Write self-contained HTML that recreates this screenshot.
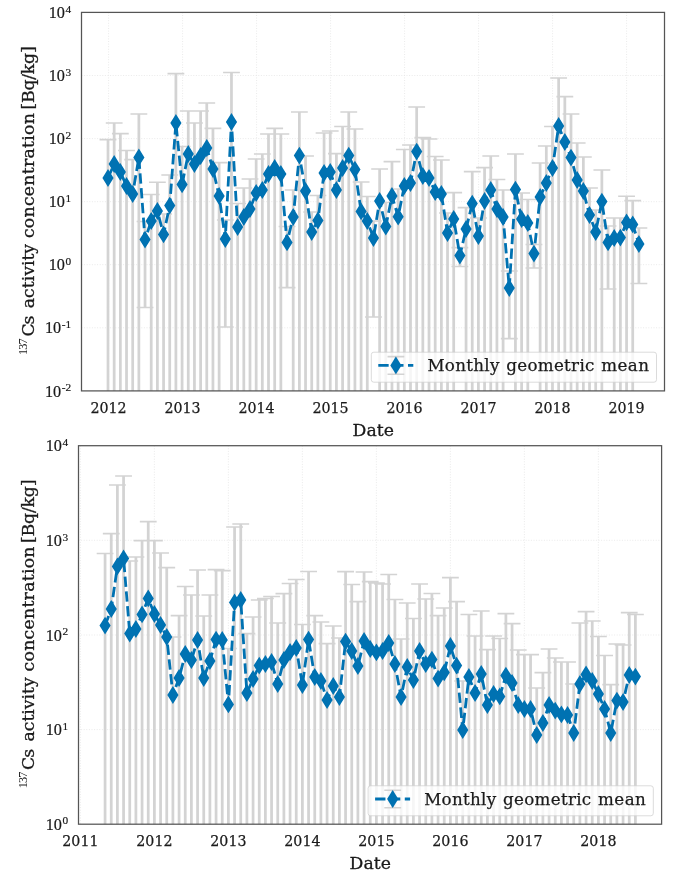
<!DOCTYPE html>
<html><head><meta charset="utf-8"><title>Cs-137 activity concentration</title>
<style>
html,body{margin:0;padding:0;background:#fff;}
svg{display:block;will-change:transform;transform:translateZ(0)}
text{fill:#1a1a1a}
.xt{font-family:"DejaVu Serif",serif;font-size:14.2px;stroke:#1a1a1a;stroke-width:0.25px}
.leg{font-family:"DejaVu Serif",serif;font-size:16.7px;stroke:#1a1a1a;stroke-width:0.25px}
.lab{font-family:"DejaVu Serif",serif;font-size:17.3px;stroke:#1a1a1a;stroke-width:0.3px}
.yt{font-family:"Liberation Serif",serif;font-size:16.2px;stroke:#1a1a1a;stroke-width:0.2px}
.sup{font-size:11.3px}
.sup2{font-family:"Liberation Serif",serif;font-size:12.3px}
</style></head><body>
<svg width="685" height="884" viewBox="0 0 685 884">
<rect width="685" height="884" fill="#fff"/>
<clipPath id="clip1"><rect x="81.5" y="12.4" width="583.0" height="378.5"/></clipPath>
<path d="M81.5 75.5H664.5M81.5 138.6H664.5M81.5 201.7H664.5M81.5 264.7H664.5M81.5 327.8H664.5M108.6 12.4V390.9M182.6 12.4V390.9M256.6 12.4V390.9M330.6 12.4V390.9M404.6 12.4V390.9M478.6 12.4V390.9M552.6 12.4V390.9M626.6 12.4V390.9" stroke="#e4e4e4" stroke-width="0.8" stroke-dasharray="1 1.6" fill="none" clip-path="url(#clip1)"/>
<g clip-path="url(#clip1)">
<path d="M108.00 139.6V410.9M114.17 123.0V410.9M120.35 133.6V410.9M126.52 150.4V410.9M132.69 159.6V410.9M138.87 114.0V410.9M145.04 221.4V307.4M151.21 194.4V410.9M157.39 182.2V410.9M163.56 214.0V410.9M169.73 175.0V410.9M175.91 73.6V410.9M182.08 146.4V410.9M188.25 111.0V410.9M194.43 123.0V410.9M200.60 111.0V410.9M206.77 103.0V410.9M212.95 128.4V410.9M219.12 162.6V410.9M225.29 220.0V327.0M231.47 72.4V410.9M237.64 203.5V410.9M243.81 188.0V410.9M249.99 179.0V410.9M256.16 159.0V410.9M262.33 154.0V410.9M268.51 134.0V410.9M274.68 128.4V410.9M280.85 134.0V410.9M287.03 226.4V287.6M293.20 190.0V410.9M299.37 112.0V410.9M305.55 156.0V410.9M311.72 212.0V410.9M317.89 195.5V410.9M324.07 133.0V410.9M330.24 131.0V410.9M336.41 153.6V410.9M342.59 126.4V410.9M348.76 112.0V410.9M354.93 129.0V410.9M361.11 182.0V410.9M367.28 196.4V410.9M373.45 221.0V317.0M379.63 169.0V410.9M385.80 202.4V410.9M391.97 161.6V410.9M398.15 189.0V410.9M404.32 149.4V410.9M410.49 145.0V410.9M416.67 107.0V410.9M422.84 137.6V410.9M429.01 139.0V410.9M435.19 156.4V410.9M441.36 160.0V410.9M447.53 213.0V410.9M453.71 192.6V410.9M459.88 247.6V266.4M466.05 207.6V410.9M472.23 171.6V410.9M478.40 218.0V410.9M484.57 167.6V410.9M490.75 156.0V410.9M496.92 179.4V410.9M503.09 190.0V410.9M509.27 271.0V338.6M515.44 154.0V410.9M521.61 193.0V410.9M527.79 199.4V410.9M533.96 244.4V268.0M540.13 163.0V410.9M546.31 146.0V410.9M552.48 126.4V410.9M558.65 78.0V410.9M564.83 96.6V410.9M571.00 114.0V410.9M577.17 143.0V410.9M583.35 157.0V410.9M589.52 188.0V410.9M595.69 210.0V410.9M601.87 170.0V410.9M608.04 226.0V289.0M614.21 218.0V410.9M620.39 218.0V410.9M626.56 196.2V410.9M632.73 200.6V410.9M638.91 228.0V283.4" stroke="#d3d3d3" stroke-width="2.75" fill="none"/>
<path d="M99.60 139.6H116.40M105.77 123.0H122.57M111.95 133.6H128.75M118.12 150.4H134.92M124.29 159.6H141.09M130.47 114.0H147.27M136.64 221.4H153.44M136.64 307.4H153.44M142.81 194.4H159.61M148.99 182.2H165.79M155.16 214.0H171.96M161.33 175.0H178.13M167.51 73.6H184.31M173.68 146.4H190.48M179.85 111.0H196.65M186.03 123.0H202.83M192.20 111.0H209.00M198.37 103.0H215.17M204.55 128.4H221.35M210.72 162.6H227.52M216.89 220.0H233.69M216.89 327.0H233.69M223.07 72.4H239.87M229.24 203.5H246.04M235.41 188.0H252.21M241.59 179.0H258.39M247.76 159.0H264.56M253.93 154.0H270.73M260.11 134.0H276.91M266.28 128.4H283.08M272.45 134.0H289.25M278.63 226.4H295.43M278.63 287.6H295.43M284.80 190.0H301.60M290.97 112.0H307.77M297.15 156.0H313.95M303.32 212.0H320.12M309.49 195.5H326.29M315.67 133.0H332.47M321.84 131.0H338.64M328.01 153.6H344.81M334.19 126.4H350.99M340.36 112.0H357.16M346.53 129.0H363.33M352.71 182.0H369.51M358.88 196.4H375.68M365.05 221.0H381.85M365.05 317.0H381.85M371.23 169.0H388.03M377.40 202.4H394.20M383.57 161.6H400.37M389.75 189.0H406.55M395.92 149.4H412.72M402.09 145.0H418.89M408.27 107.0H425.07M414.44 137.6H431.24M420.61 139.0H437.41M426.79 156.4H443.59M432.96 160.0H449.76M439.13 213.0H455.93M445.31 192.6H462.11M451.48 247.6H468.28M451.48 266.4H468.28M457.65 207.6H474.45M463.83 171.6H480.63M470.00 218.0H486.80M476.17 167.6H492.97M482.35 156.0H499.15M488.52 179.4H505.32M494.69 190.0H511.49M500.87 271.0H517.67M500.87 338.6H517.67M507.04 154.0H523.84M513.21 193.0H530.01M519.39 199.4H536.19M525.56 244.4H542.36M525.56 268.0H542.36M531.73 163.0H548.53M537.91 146.0H554.71M544.08 126.4H560.88M550.25 78.0H567.05M556.43 96.6H573.23M562.60 114.0H579.40M568.77 143.0H585.57M574.95 157.0H591.75M581.12 188.0H597.92M587.29 210.0H604.09M593.47 170.0H610.27M599.64 226.0H616.44M599.64 289.0H616.44M605.81 218.0H622.61M611.99 218.0H628.79M618.16 196.2H634.96M624.33 200.6H641.13M630.51 228.0H647.31M630.51 283.4H647.31" stroke="#d3d3d3" stroke-width="1.55" fill="none"/>
<polyline points="108.00,178.0 114.17,164.0 120.35,172.0 126.52,186.0 132.69,194.0 138.87,157.4 145.04,239.6 151.21,221.0 157.39,211.0 163.56,234.4 169.73,205.6 175.91,123.0 182.08,184.4 188.25,154.0 194.43,164.0 200.60,156.0 206.77,148.0 212.95,169.0 219.12,196.0 225.29,239.0 231.47,122.0 237.64,227.0 243.81,217.0 249.99,209.0 256.16,193.0 262.33,190.0 268.51,174.0 274.68,168.0 280.85,174.0 287.03,242.4 293.20,217.0 299.37,155.6 305.55,191.0 311.72,232.0 317.89,220.5 324.07,173.0 330.24,172.0 336.41,190.0 342.59,168.0 348.76,155.6 354.93,169.6 361.11,211.4 367.28,221.0 373.45,238.0 379.63,201.0 385.80,226.5 391.97,196.0 398.15,216.7 404.32,186.0 410.49,183.0 416.67,151.6 422.84,176.0 429.01,178.0 435.19,192.0 441.36,194.0 447.53,233.0 453.71,219.0 459.88,255.6 466.05,229.0 472.23,203.6 478.40,236.0 484.57,201.0 490.75,190.0 496.92,209.0 503.09,217.0 509.27,288.0 515.44,189.6 521.61,219.0 527.79,223.0 533.96,253.6 540.13,197.0 546.31,183.0 552.48,168.0 558.65,126.0 564.83,142.0 571.00,157.6 577.17,180.0 583.35,191.0 589.52,215.0 595.69,232.0 601.87,201.6 608.04,242.4 614.21,238.0 620.39,237.6 626.56,222.4 632.73,224.4 638.91,244.0" stroke="#0072b2" stroke-width="2.8" stroke-dasharray="10.36 4.48" fill="none" stroke-linejoin="round"/>
<path d="M108.00 169.1L113.60 178.0L108.00 186.9L102.40 178.0ZM114.17 155.1L119.77 164.0L114.17 172.9L108.57 164.0ZM120.35 163.1L125.95 172.0L120.35 180.9L114.75 172.0ZM126.52 177.1L132.12 186.0L126.52 194.9L120.92 186.0ZM132.69 185.1L138.29 194.0L132.69 202.9L127.09 194.0ZM138.87 148.5L144.47 157.4L138.87 166.3L133.27 157.4ZM145.04 230.7L150.64 239.6L145.04 248.5L139.44 239.6ZM151.21 212.1L156.81 221.0L151.21 229.9L145.61 221.0ZM157.39 202.1L162.99 211.0L157.39 219.9L151.79 211.0ZM163.56 225.5L169.16 234.4L163.56 243.3L157.96 234.4ZM169.73 196.7L175.33 205.6L169.73 214.5L164.13 205.6ZM175.91 114.1L181.51 123.0L175.91 131.9L170.31 123.0ZM182.08 175.5L187.68 184.4L182.08 193.3L176.48 184.4ZM188.25 145.1L193.85 154.0L188.25 162.9L182.65 154.0ZM194.43 155.1L200.03 164.0L194.43 172.9L188.83 164.0ZM200.60 147.1L206.20 156.0L200.60 164.9L195.00 156.0ZM206.77 139.1L212.37 148.0L206.77 156.9L201.17 148.0ZM212.95 160.1L218.55 169.0L212.95 177.9L207.35 169.0ZM219.12 187.1L224.72 196.0L219.12 204.9L213.52 196.0ZM225.29 230.1L230.89 239.0L225.29 247.9L219.69 239.0ZM231.47 113.1L237.07 122.0L231.47 130.9L225.87 122.0ZM237.64 218.1L243.24 227.0L237.64 235.9L232.04 227.0ZM243.81 208.1L249.41 217.0L243.81 225.9L238.21 217.0ZM249.99 200.1L255.59 209.0L249.99 217.9L244.39 209.0ZM256.16 184.1L261.76 193.0L256.16 201.9L250.56 193.0ZM262.33 181.1L267.93 190.0L262.33 198.9L256.73 190.0ZM268.51 165.1L274.11 174.0L268.51 182.9L262.91 174.0ZM274.68 159.1L280.28 168.0L274.68 176.9L269.08 168.0ZM280.85 165.1L286.45 174.0L280.85 182.9L275.25 174.0ZM287.03 233.5L292.63 242.4L287.03 251.3L281.43 242.4ZM293.20 208.1L298.80 217.0L293.20 225.9L287.60 217.0ZM299.37 146.7L304.97 155.6L299.37 164.5L293.77 155.6ZM305.55 182.1L311.15 191.0L305.55 199.9L299.95 191.0ZM311.72 223.1L317.32 232.0L311.72 240.9L306.12 232.0ZM317.89 211.6L323.49 220.5L317.89 229.4L312.29 220.5ZM324.07 164.1L329.67 173.0L324.07 181.9L318.47 173.0ZM330.24 163.1L335.84 172.0L330.24 180.9L324.64 172.0ZM336.41 181.1L342.01 190.0L336.41 198.9L330.81 190.0ZM342.59 159.1L348.19 168.0L342.59 176.9L336.99 168.0ZM348.76 146.7L354.36 155.6L348.76 164.5L343.16 155.6ZM354.93 160.7L360.53 169.6L354.93 178.5L349.33 169.6ZM361.11 202.5L366.71 211.4L361.11 220.3L355.51 211.4ZM367.28 212.1L372.88 221.0L367.28 229.9L361.68 221.0ZM373.45 229.1L379.05 238.0L373.45 246.9L367.85 238.0ZM379.63 192.1L385.23 201.0L379.63 209.9L374.03 201.0ZM385.80 217.6L391.40 226.5L385.80 235.4L380.20 226.5ZM391.97 187.1L397.57 196.0L391.97 204.9L386.37 196.0ZM398.15 207.8L403.75 216.7L398.15 225.6L392.55 216.7ZM404.32 177.1L409.92 186.0L404.32 194.9L398.72 186.0ZM410.49 174.1L416.09 183.0L410.49 191.9L404.89 183.0ZM416.67 142.7L422.27 151.6L416.67 160.5L411.07 151.6ZM422.84 167.1L428.44 176.0L422.84 184.9L417.24 176.0ZM429.01 169.1L434.61 178.0L429.01 186.9L423.41 178.0ZM435.19 183.1L440.79 192.0L435.19 200.9L429.59 192.0ZM441.36 185.1L446.96 194.0L441.36 202.9L435.76 194.0ZM447.53 224.1L453.13 233.0L447.53 241.9L441.93 233.0ZM453.71 210.1L459.31 219.0L453.71 227.9L448.11 219.0ZM459.88 246.7L465.48 255.6L459.88 264.5L454.28 255.6ZM466.05 220.1L471.65 229.0L466.05 237.9L460.45 229.0ZM472.23 194.7L477.83 203.6L472.23 212.5L466.63 203.6ZM478.40 227.1L484.00 236.0L478.40 244.9L472.80 236.0ZM484.57 192.1L490.17 201.0L484.57 209.9L478.97 201.0ZM490.75 181.1L496.35 190.0L490.75 198.9L485.15 190.0ZM496.92 200.1L502.52 209.0L496.92 217.9L491.32 209.0ZM503.09 208.1L508.69 217.0L503.09 225.9L497.49 217.0ZM509.27 279.1L514.87 288.0L509.27 296.9L503.67 288.0ZM515.44 180.7L521.04 189.6L515.44 198.5L509.84 189.6ZM521.61 210.1L527.21 219.0L521.61 227.9L516.01 219.0ZM527.79 214.1L533.39 223.0L527.79 231.9L522.19 223.0ZM533.96 244.7L539.56 253.6L533.96 262.5L528.36 253.6ZM540.13 188.1L545.73 197.0L540.13 205.9L534.53 197.0ZM546.31 174.1L551.91 183.0L546.31 191.9L540.71 183.0ZM552.48 159.1L558.08 168.0L552.48 176.9L546.88 168.0ZM558.65 117.1L564.25 126.0L558.65 134.9L553.05 126.0ZM564.83 133.1L570.43 142.0L564.83 150.9L559.23 142.0ZM571.00 148.7L576.60 157.6L571.00 166.5L565.40 157.6ZM577.17 171.1L582.77 180.0L577.17 188.9L571.57 180.0ZM583.35 182.1L588.95 191.0L583.35 199.9L577.75 191.0ZM589.52 206.1L595.12 215.0L589.52 223.9L583.92 215.0ZM595.69 223.1L601.29 232.0L595.69 240.9L590.09 232.0ZM601.87 192.7L607.47 201.6L601.87 210.5L596.27 201.6ZM608.04 233.5L613.64 242.4L608.04 251.3L602.44 242.4ZM614.21 229.1L619.81 238.0L614.21 246.9L608.61 238.0ZM620.39 228.7L625.99 237.6L620.39 246.5L614.79 237.6ZM626.56 213.5L632.16 222.4L626.56 231.3L620.96 222.4ZM632.73 215.5L638.33 224.4L632.73 233.3L627.13 224.4ZM638.91 235.1L644.51 244.0L638.91 252.9L633.31 244.0Z" fill="#0072b2"/>
</g>
<rect x="371.3" y="352.2" width="285.2" height="30" rx="2.5" fill="#fff" fill-opacity="0.8" stroke="#cccccc" stroke-opacity="0.7" stroke-width="1"/>
<path d="M395.90000000000003 356.59999999999997V374.2" stroke="#d3d3d3" stroke-width="2.75" opacity="0.9"/>
<path d="M387.50000000000006 356.59999999999997H404.3M387.50000000000006 374.2H404.3" stroke="#d3d3d3" stroke-width="1.55"/>
<path d="M378.3 365.4H413.3" stroke="#0072b2" stroke-width="2.8" stroke-dasharray="10.36 4.48"/>
<path d="M395.90000000000003 356.5L401.50000000000006 365.4L395.90000000000003 374.29999999999995L390.3 365.4Z" fill="#0072b2"/>
<text x="427.4" y="371.4" class="leg" textLength="72.0" lengthAdjust="spacing">Monthly</text>
<text x="506.2" y="371.4" class="leg" textLength="88.2" lengthAdjust="spacing">geometric</text>
<text x="601.2" y="371.4" class="leg" textLength="47.8" lengthAdjust="spacing">mean</text>
<rect x="81.5" y="12.4" width="583.0" height="378.5" fill="none" stroke="#555555" stroke-width="1.25"/>
<text x="108.6" y="412.7" class="xt" text-anchor="middle">2012</text>
<text x="182.6" y="412.7" class="xt" text-anchor="middle">2013</text>
<text x="256.6" y="412.7" class="xt" text-anchor="middle">2014</text>
<text x="330.6" y="412.7" class="xt" text-anchor="middle">2015</text>
<text x="404.6" y="412.7" class="xt" text-anchor="middle">2016</text>
<text x="478.6" y="412.7" class="xt" text-anchor="middle">2017</text>
<text x="552.6" y="412.7" class="xt" text-anchor="middle">2018</text>
<text x="626.6" y="412.7" class="xt" text-anchor="middle">2019</text>
<text x="71.2" y="18.0" class="yt" text-anchor="end">10<tspan class="sup" dx="0.6" dy="-5.4">4</tspan></text>
<text x="71.2" y="81.1" class="yt" text-anchor="end">10<tspan class="sup" dx="0.6" dy="-5.4">3</tspan></text>
<text x="71.2" y="144.2" class="yt" text-anchor="end">10<tspan class="sup" dx="0.6" dy="-5.4">2</tspan></text>
<text x="71.2" y="207.2" class="yt" text-anchor="end">10<tspan class="sup" dx="0.6" dy="-5.4">1</tspan></text>
<text x="71.2" y="270.3" class="yt" text-anchor="end">10<tspan class="sup" dx="0.6" dy="-5.4">0</tspan></text>
<text x="71.2" y="333.4" class="yt" text-anchor="end">10<tspan class="sup" dx="0.6" dy="-5.4">-1</tspan></text>
<text x="71.2" y="396.5" class="yt" text-anchor="end">10<tspan class="sup" dx="0.6" dy="-5.4">-2</tspan></text>
<text transform="translate(373.2 435.8) scale(1 1.0)" class="lab" text-anchor="middle">Date</text>
<text transform="translate(26.7 355.0) rotate(-90)" class="sup2" textLength="16.6" lengthAdjust="spacing">137</text>
<text transform="translate(33.6 336.6) rotate(-90) scale(1 1.0)" class="lab" textLength="21.0" lengthAdjust="spacing">Cs</text>
<text transform="translate(33.6 308.2) rotate(-90) scale(1 1.0)" class="lab" textLength="64.3" lengthAdjust="spacing">activity</text>
<text transform="translate(33.6 238.1) rotate(-90) scale(1 1.0)" class="lab" textLength="124.9" lengthAdjust="spacing">concentration</text>
<text transform="translate(33.6 109.6) rotate(-90) scale(1 1.0)" class="lab" textLength="63.3" lengthAdjust="spacing">[Bq/kg]</text>
<clipPath id="clip2"><rect x="78.5" y="445.7" width="583.1" height="378.50000000000006"/></clipPath>
<path d="M78.5 540.3H661.6M78.5 635.0H661.6M78.5 729.6H661.6M80.4 445.7V824.2M154.4 445.7V824.2M228.4 445.7V824.2M302.4 445.7V824.2M376.4 445.7V824.2M450.4 445.7V824.2M524.4 445.7V824.2M598.4 445.7V824.2" stroke="#e4e4e4" stroke-width="0.8" stroke-dasharray="1 1.6" fill="none" clip-path="url(#clip2)"/>
<g clip-path="url(#clip2)">
<path d="M105.07 553.4V844.2M111.24 533.6V844.2M117.40 485.0V844.2M123.57 476.0V844.2M129.74 561.0V844.2M135.90 557.0V844.2M142.07 540.6V844.2M148.24 521.6V844.2M154.40 540.6V844.2M160.57 553.0V844.2M166.74 567.6V844.2M172.90 637.0V844.2M179.07 615.6V844.2M185.24 586.4V844.2M191.40 595.0V844.2M197.57 570.0V844.2M203.74 616.0V844.2M209.90 595.0V844.2M216.07 569.6V844.2M222.24 570.6V844.2M228.40 648.4V844.2M234.57 527.0V844.2M240.74 524.0V844.2M246.90 633.6V844.2M253.07 617.0V844.2M259.24 600.0V844.2M265.40 598.5V844.2M271.57 596.5V844.2M277.74 623.0V844.2M283.90 593.6V844.2M290.07 583.4V844.2M296.24 579.4V844.2M302.40 624.4V844.2M308.57 571.4V844.2M314.74 615.6V844.2M320.90 622.0V844.2M327.07 643.6V844.2M333.24 626.0V844.2M339.40 638.0V844.2M345.57 571.6V844.2M351.74 584.4V844.2M357.90 601.6V844.2M364.07 572.0V844.2M370.24 581.6V844.2M376.40 583.0V844.2M382.57 584.0V844.2M388.74 574.4V844.2M394.90 599.4V844.2M401.07 639.0V844.2M407.24 603.0V844.2M413.40 618.4V844.2M419.57 584.0V844.2M425.74 599.0V844.2M431.90 593.4V844.2M438.07 615.6V844.2M444.24 608.0V844.2M450.40 577.6V844.2M456.57 601.6V844.2M462.74 681.0V844.2M468.90 614.4V844.2M475.07 636.0V844.2M481.24 611.0V844.2M487.40 649.6V844.2M493.57 636.0V844.2M499.74 638.4V844.2M505.90 613.6V844.2M512.07 623.6V844.2M518.24 650.0V844.2M524.40 654.6V844.2M530.57 654.6V844.2M536.74 688.0V844.2M542.90 672.6V844.2M549.07 649.0V844.2M555.24 658.0V844.2M561.40 662.0V844.2M567.57 662.0V844.2M573.74 684.0V844.2M579.90 623.0V844.2M586.07 611.6V844.2M592.24 621.0V844.2M598.40 636.4V844.2M604.57 655.4V844.2M610.74 684.6V844.2M616.90 644.0V844.2M623.07 645.0V844.2M629.24 612.6V844.2M635.40 614.4V844.2" stroke="#d3d3d3" stroke-width="2.75" fill="none"/>
<path d="M96.67 553.4H113.47M102.84 533.6H119.64M109.00 485.0H125.80M115.17 476.0H131.97M121.34 561.0H138.14M127.50 557.0H144.30M133.67 540.6H150.47M139.84 521.6H156.64M146.00 540.6H162.80M152.17 553.0H168.97M158.34 567.6H175.14M164.50 637.0H181.30M170.67 615.6H187.47M176.84 586.4H193.64M183.00 595.0H199.80M189.17 570.0H205.97M195.34 616.0H212.14M201.50 595.0H218.30M207.67 569.6H224.47M213.84 570.6H230.64M220.00 648.4H236.80M226.17 527.0H242.97M232.34 524.0H249.14M238.50 633.6H255.30M244.67 617.0H261.47M250.84 600.0H267.64M257.00 598.5H273.80M263.17 596.5H279.97M269.34 623.0H286.14M275.50 593.6H292.30M281.67 583.4H298.47M287.84 579.4H304.64M294.00 624.4H310.80M300.17 571.4H316.97M306.34 615.6H323.14M312.50 622.0H329.30M318.67 643.6H335.47M324.84 626.0H341.64M331.00 638.0H347.80M337.17 571.6H353.97M343.34 584.4H360.14M349.50 601.6H366.30M355.67 572.0H372.47M361.84 581.6H378.64M368.00 583.0H384.80M374.17 584.0H390.97M380.34 574.4H397.14M386.50 599.4H403.30M392.67 639.0H409.47M398.84 603.0H415.64M405.00 618.4H421.80M411.17 584.0H427.97M417.34 599.0H434.14M423.50 593.4H440.30M429.67 615.6H446.47M435.84 608.0H452.64M442.00 577.6H458.80M448.17 601.6H464.97M454.34 681.0H471.14M460.50 614.4H477.30M466.67 636.0H483.47M472.84 611.0H489.64M479.00 649.6H495.80M485.17 636.0H501.97M491.34 638.4H508.14M497.50 613.6H514.30M503.67 623.6H520.47M509.84 650.0H526.64M516.00 654.6H532.80M522.17 654.6H538.97M528.34 688.0H545.14M534.50 672.6H551.30M540.67 649.0H557.47M546.84 658.0H563.64M553.00 662.0H569.80M559.17 662.0H575.97M565.34 684.0H582.14M571.50 623.0H588.30M577.67 611.6H594.47M583.84 621.0H600.64M590.00 636.4H606.80M596.17 655.4H612.97M602.34 684.6H619.14M608.50 644.0H625.30M614.67 645.0H631.47M620.84 612.6H637.64M627.00 614.4H643.80" stroke="#d3d3d3" stroke-width="1.55" fill="none"/>
<polyline points="105.07,625.6 111.24,609.0 117.40,566.4 123.57,558.4 129.74,633.6 135.90,629.0 142.07,614.4 148.24,598.4 154.40,614.0 160.57,625.0 166.74,637.0 172.90,695.0 179.07,678.0 185.24,654.0 191.40,660.0 197.57,640.0 203.74,678.0 209.90,661.0 216.07,639.6 222.24,640.0 228.40,704.4 234.57,602.4 240.74,600.0 246.90,693.0 253.07,679.0 259.24,665.6 265.40,664.0 271.57,662.0 277.74,684.0 283.90,660.0 290.07,652.0 296.24,648.0 302.40,685.0 308.57,639.6 314.74,677.0 320.90,681.0 327.07,700.0 333.24,686.0 339.40,697.0 345.57,641.6 351.74,651.0 357.90,666.0 364.07,641.0 370.24,649.0 376.40,652.4 382.57,651.0 388.74,643.0 394.90,664.0 401.07,697.0 407.24,667.0 413.40,680.0 419.57,651.0 425.74,664.0 431.90,659.6 438.07,678.6 444.24,672.4 450.40,646.0 456.57,665.6 462.74,730.0 468.90,677.0 475.07,693.0 481.24,674.0 487.40,705.0 493.57,694.0 499.74,696.4 505.90,675.6 512.07,683.0 518.24,705.0 524.40,709.0 530.57,709.0 536.74,735.0 542.90,723.0 549.07,705.0 555.24,710.6 561.40,714.4 567.57,715.0 573.74,733.0 579.90,684.0 586.07,674.4 592.24,681.0 598.40,694.0 604.57,709.0 610.74,733.0 616.90,700.6 623.07,702.0 629.24,675.0 635.40,676.6" stroke="#0072b2" stroke-width="2.8" stroke-dasharray="10.36 4.48" fill="none" stroke-linejoin="round"/>
<path d="M105.07 616.7L110.67 625.6L105.07 634.5L99.47 625.6ZM111.24 600.1L116.84 609.0L111.24 617.9L105.64 609.0ZM117.40 557.5L123.00 566.4L117.40 575.3L111.80 566.4ZM123.57 549.5L129.17 558.4L123.57 567.3L117.97 558.4ZM129.74 624.7L135.34 633.6L129.74 642.5L124.14 633.6ZM135.90 620.1L141.50 629.0L135.90 637.9L130.30 629.0ZM142.07 605.5L147.67 614.4L142.07 623.3L136.47 614.4ZM148.24 589.5L153.84 598.4L148.24 607.3L142.64 598.4ZM154.40 605.1L160.00 614.0L154.40 622.9L148.80 614.0ZM160.57 616.1L166.17 625.0L160.57 633.9L154.97 625.0ZM166.74 628.1L172.34 637.0L166.74 645.9L161.14 637.0ZM172.90 686.1L178.50 695.0L172.90 703.9L167.30 695.0ZM179.07 669.1L184.67 678.0L179.07 686.9L173.47 678.0ZM185.24 645.1L190.84 654.0L185.24 662.9L179.64 654.0ZM191.40 651.1L197.00 660.0L191.40 668.9L185.80 660.0ZM197.57 631.1L203.17 640.0L197.57 648.9L191.97 640.0ZM203.74 669.1L209.34 678.0L203.74 686.9L198.14 678.0ZM209.90 652.1L215.50 661.0L209.90 669.9L204.30 661.0ZM216.07 630.7L221.67 639.6L216.07 648.5L210.47 639.6ZM222.24 631.1L227.84 640.0L222.24 648.9L216.64 640.0ZM228.40 695.5L234.00 704.4L228.40 713.3L222.80 704.4ZM234.57 593.5L240.17 602.4L234.57 611.3L228.97 602.4ZM240.74 591.1L246.34 600.0L240.74 608.9L235.14 600.0ZM246.90 684.1L252.50 693.0L246.90 701.9L241.30 693.0ZM253.07 670.1L258.67 679.0L253.07 687.9L247.47 679.0ZM259.24 656.7L264.84 665.6L259.24 674.5L253.64 665.6ZM265.40 655.1L271.00 664.0L265.40 672.9L259.80 664.0ZM271.57 653.1L277.17 662.0L271.57 670.9L265.97 662.0ZM277.74 675.1L283.34 684.0L277.74 692.9L272.14 684.0ZM283.90 651.1L289.50 660.0L283.90 668.9L278.30 660.0ZM290.07 643.1L295.67 652.0L290.07 660.9L284.47 652.0ZM296.24 639.1L301.84 648.0L296.24 656.9L290.64 648.0ZM302.40 676.1L308.00 685.0L302.40 693.9L296.80 685.0ZM308.57 630.7L314.17 639.6L308.57 648.5L302.97 639.6ZM314.74 668.1L320.34 677.0L314.74 685.9L309.14 677.0ZM320.90 672.1L326.50 681.0L320.90 689.9L315.30 681.0ZM327.07 691.1L332.67 700.0L327.07 708.9L321.47 700.0ZM333.24 677.1L338.84 686.0L333.24 694.9L327.64 686.0ZM339.40 688.1L345.00 697.0L339.40 705.9L333.80 697.0ZM345.57 632.7L351.17 641.6L345.57 650.5L339.97 641.6ZM351.74 642.1L357.34 651.0L351.74 659.9L346.14 651.0ZM357.90 657.1L363.50 666.0L357.90 674.9L352.30 666.0ZM364.07 632.1L369.67 641.0L364.07 649.9L358.47 641.0ZM370.24 640.1L375.84 649.0L370.24 657.9L364.64 649.0ZM376.40 643.5L382.00 652.4L376.40 661.3L370.80 652.4ZM382.57 642.1L388.17 651.0L382.57 659.9L376.97 651.0ZM388.74 634.1L394.34 643.0L388.74 651.9L383.14 643.0ZM394.90 655.1L400.50 664.0L394.90 672.9L389.30 664.0ZM401.07 688.1L406.67 697.0L401.07 705.9L395.47 697.0ZM407.24 658.1L412.84 667.0L407.24 675.9L401.64 667.0ZM413.40 671.1L419.00 680.0L413.40 688.9L407.80 680.0ZM419.57 642.1L425.17 651.0L419.57 659.9L413.97 651.0ZM425.74 655.1L431.34 664.0L425.74 672.9L420.14 664.0ZM431.90 650.7L437.50 659.6L431.90 668.5L426.30 659.6ZM438.07 669.7L443.67 678.6L438.07 687.5L432.47 678.6ZM444.24 663.5L449.84 672.4L444.24 681.3L438.64 672.4ZM450.40 637.1L456.00 646.0L450.40 654.9L444.80 646.0ZM456.57 656.7L462.17 665.6L456.57 674.5L450.97 665.6ZM462.74 721.1L468.34 730.0L462.74 738.9L457.14 730.0ZM468.90 668.1L474.50 677.0L468.90 685.9L463.30 677.0ZM475.07 684.1L480.67 693.0L475.07 701.9L469.47 693.0ZM481.24 665.1L486.84 674.0L481.24 682.9L475.64 674.0ZM487.40 696.1L493.00 705.0L487.40 713.9L481.80 705.0ZM493.57 685.1L499.17 694.0L493.57 702.9L487.97 694.0ZM499.74 687.5L505.34 696.4L499.74 705.3L494.14 696.4ZM505.90 666.7L511.50 675.6L505.90 684.5L500.30 675.6ZM512.07 674.1L517.67 683.0L512.07 691.9L506.47 683.0ZM518.24 696.1L523.84 705.0L518.24 713.9L512.64 705.0ZM524.40 700.1L530.00 709.0L524.40 717.9L518.80 709.0ZM530.57 700.1L536.17 709.0L530.57 717.9L524.97 709.0ZM536.74 726.1L542.34 735.0L536.74 743.9L531.14 735.0ZM542.90 714.1L548.50 723.0L542.90 731.9L537.30 723.0ZM549.07 696.1L554.67 705.0L549.07 713.9L543.47 705.0ZM555.24 701.7L560.84 710.6L555.24 719.5L549.64 710.6ZM561.40 705.5L567.00 714.4L561.40 723.3L555.80 714.4ZM567.57 706.1L573.17 715.0L567.57 723.9L561.97 715.0ZM573.74 724.1L579.34 733.0L573.74 741.9L568.14 733.0ZM579.90 675.1L585.50 684.0L579.90 692.9L574.30 684.0ZM586.07 665.5L591.67 674.4L586.07 683.3L580.47 674.4ZM592.24 672.1L597.84 681.0L592.24 689.9L586.64 681.0ZM598.40 685.1L604.00 694.0L598.40 702.9L592.80 694.0ZM604.57 700.1L610.17 709.0L604.57 717.9L598.97 709.0ZM610.74 724.1L616.34 733.0L610.74 741.9L605.14 733.0ZM616.90 691.7L622.50 700.6L616.90 709.5L611.30 700.6ZM623.07 693.1L628.67 702.0L623.07 710.9L617.47 702.0ZM629.24 666.1L634.84 675.0L629.24 683.9L623.64 675.0ZM635.40 667.7L641.00 676.6L635.40 685.5L629.80 676.6Z" fill="#0072b2"/>
</g>
<rect x="368.1" y="785.8" width="285.2" height="30" rx="2.5" fill="#fff" fill-opacity="0.8" stroke="#cccccc" stroke-opacity="0.7" stroke-width="1"/>
<path d="M392.70000000000005 790.2V807.8" stroke="#d3d3d3" stroke-width="2.75" opacity="0.9"/>
<path d="M384.30000000000007 790.2H401.1M384.30000000000007 807.8H401.1" stroke="#d3d3d3" stroke-width="1.55"/>
<path d="M375.1 799.0H410.1" stroke="#0072b2" stroke-width="2.8" stroke-dasharray="10.36 4.48"/>
<path d="M392.70000000000005 790.1L398.30000000000007 799.0L392.70000000000005 807.9L387.1 799.0Z" fill="#0072b2"/>
<text x="424.2" y="805.0" class="leg" textLength="72.0" lengthAdjust="spacing">Monthly</text>
<text x="503.0" y="805.0" class="leg" textLength="88.2" lengthAdjust="spacing">geometric</text>
<text x="598.0" y="805.0" class="leg" textLength="47.8" lengthAdjust="spacing">mean</text>
<rect x="78.5" y="445.7" width="583.1" height="378.50000000000006" fill="none" stroke="#555555" stroke-width="1.25"/>
<text x="80.4" y="846.0" class="xt" text-anchor="middle">2011</text>
<text x="154.4" y="846.0" class="xt" text-anchor="middle">2012</text>
<text x="228.4" y="846.0" class="xt" text-anchor="middle">2013</text>
<text x="302.4" y="846.0" class="xt" text-anchor="middle">2014</text>
<text x="376.4" y="846.0" class="xt" text-anchor="middle">2015</text>
<text x="450.4" y="846.0" class="xt" text-anchor="middle">2016</text>
<text x="524.4" y="846.0" class="xt" text-anchor="middle">2017</text>
<text x="598.4" y="846.0" class="xt" text-anchor="middle">2018</text>
<text x="68.2" y="451.3" class="yt" text-anchor="end">10<tspan class="sup" dx="0.6" dy="-5.4">4</tspan></text>
<text x="68.2" y="545.9" class="yt" text-anchor="end">10<tspan class="sup" dx="0.6" dy="-5.4">3</tspan></text>
<text x="68.2" y="640.6" class="yt" text-anchor="end">10<tspan class="sup" dx="0.6" dy="-5.4">2</tspan></text>
<text x="68.2" y="735.2" class="yt" text-anchor="end">10<tspan class="sup" dx="0.6" dy="-5.4">1</tspan></text>
<text x="68.2" y="829.8" class="yt" text-anchor="end">10<tspan class="sup" dx="0.6" dy="-5.4">0</tspan></text>
<text transform="translate(370.2 869.1) scale(1 1.0)" class="lab" text-anchor="middle">Date</text>
<text transform="translate(26.7 788.3) rotate(-90)" class="sup2" textLength="16.6" lengthAdjust="spacing">137</text>
<text transform="translate(33.6 769.9) rotate(-90) scale(1 1.0)" class="lab" textLength="21.0" lengthAdjust="spacing">Cs</text>
<text transform="translate(33.6 741.5) rotate(-90) scale(1 1.0)" class="lab" textLength="64.3" lengthAdjust="spacing">activity</text>
<text transform="translate(33.6 671.4) rotate(-90) scale(1 1.0)" class="lab" textLength="124.9" lengthAdjust="spacing">concentration</text>
<text transform="translate(33.6 542.9) rotate(-90) scale(1 1.0)" class="lab" textLength="63.3" lengthAdjust="spacing">[Bq/kg]</text>
</svg>
</body></html>
